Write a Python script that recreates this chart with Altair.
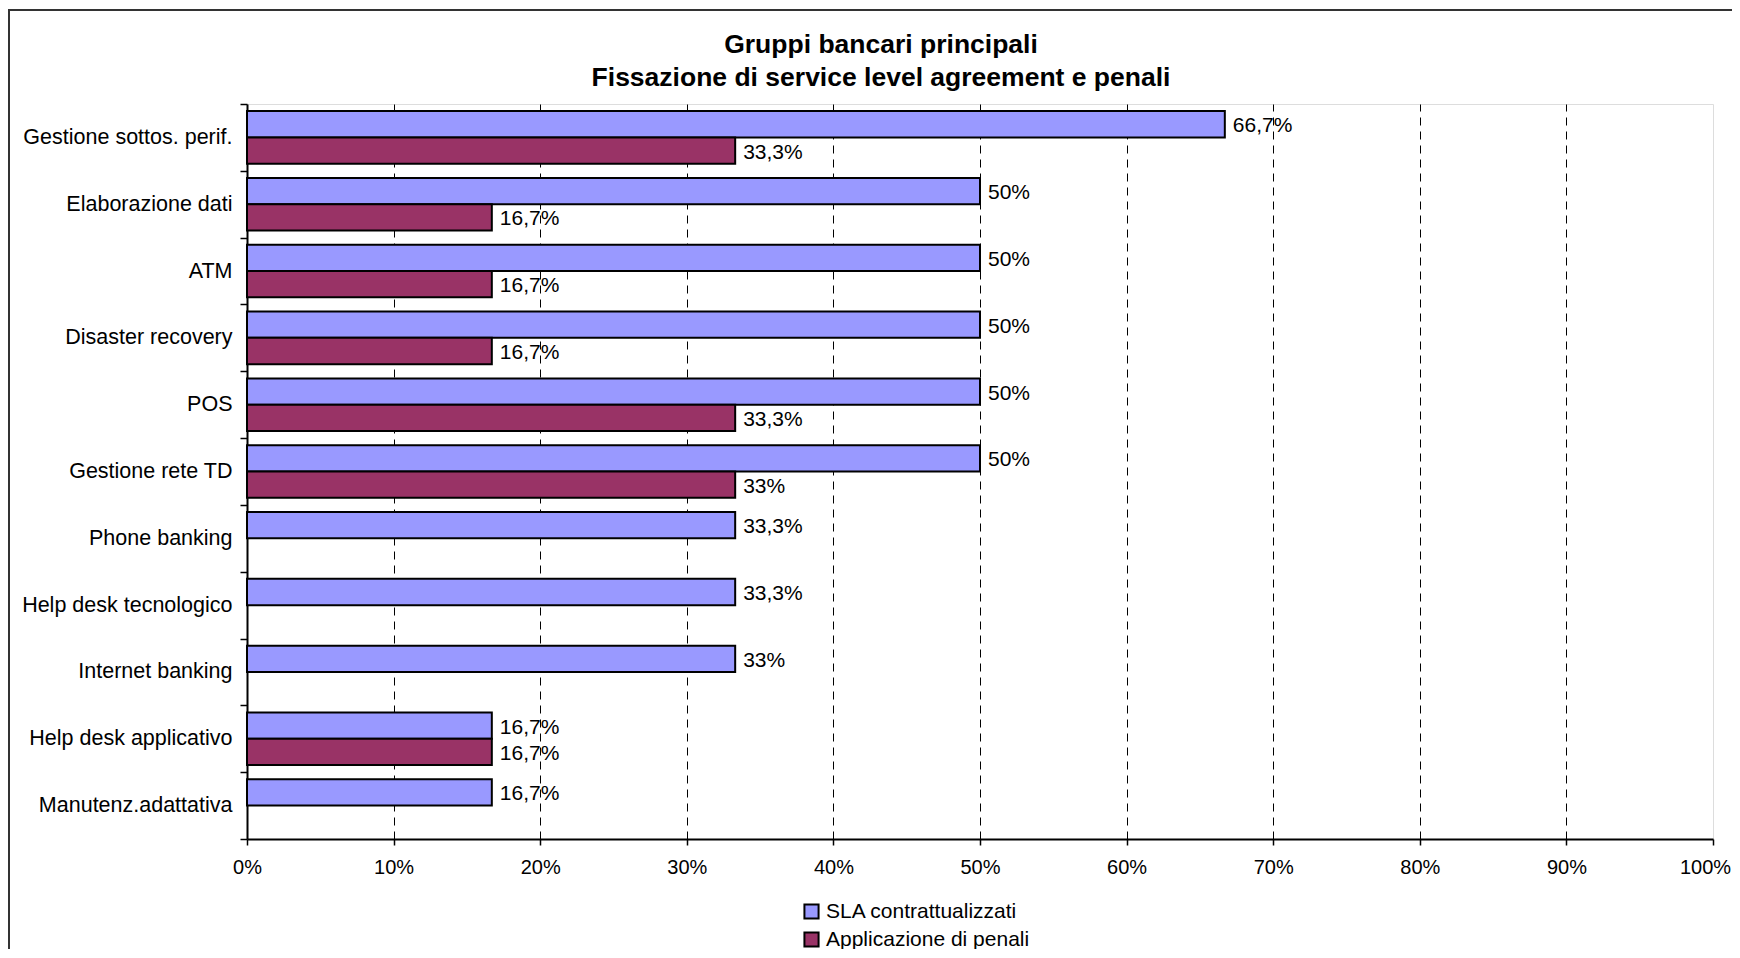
import altair as alt
import pandas as pd

categories = ["Gestione sottos. perif.", "Elaborazione dati", "ATM", "Disaster recovery",
              "POS", "Gestione rete TD", "Phone banking", "Help desk tecnologico",
              "Internet banking", "Help desk applicativo", "Manutenz.adattativa"]
series_names = ["SLA contrattualizzati", "Applicazione di penali"]
sla_values = [66.7, 50, 50, 50, 50, 50, 33.3, 33.3, 33.3, 16.7, 16.7]
sla_labels = ["66,7%", "50%", "50%", "50%", "50%", "50%", "33,3%", "33,3%", "33%", "16,7%", "16,7%"]
pen_values = [33.3, 16.7, 16.7, 16.7, 33.3, 33.3, None, None, None, 16.7, None]
pen_labels = ["33,3%", "16,7%", "16,7%", "16,7%", "33,3%", "33%", None, None, None, "16,7%", None]
x_ticks = [0, 0.1, 0.2, 0.3, 0.4, 0.5, 0.6, 0.7, 0.8, 0.9, 1.0]

rows = []
for c, v, l in zip(categories, sla_values, sla_labels):
    rows.append({"cat": c, "serie": series_names[0], "val": v / 100, "lab": l})
for c, v, l in zip(categories, pen_values, pen_labels):
    if v is not None:
        rows.append({"cat": c, "serie": series_names[1], "val": v / 100, "lab": l})
df = pd.DataFrame(rows)

FONT = "Liberation Sans"
W, H = 1466, 735

y_enc = alt.Y("cat:N", sort=categories,
              scale=alt.Scale(paddingInner=0, paddingOuter=0),
              axis=alt.Axis(title=None, labelFontSize=21.5, labelFont=FONT, labelColor="black",
                            tickBand="extent", domainColor="black", domainWidth=2,
                            tickColor="black", tickWidth=1.5, tickSize=7, labelPadding=8,
                            grid=False, labelLimit=400))
yoff_enc = alt.YOffset("serie:N", sort=series_names,
                       scale=alt.Scale(paddingInner=0, paddingOuter=0.27))
x_enc = alt.X("val:Q", scale=alt.Scale(domain=[0, 1], nice=False),
              axis=alt.Axis(title=None, values=x_ticks, format=".0%", grid=True,
                            gridColor="black", gridDash=[8, 6], gridWidth=1,
                            gridOpacity={"condition": {"test": "datum.value <= 0 || datum.value >= 1", "value": 0}, "value": 1},
                            domainColor="black", domainWidth=2, tickColor="black",
                            tickWidth=1.5, tickSize=6, labelFontSize=20, labelFont=FONT,
                            labelColor="black", labelPadding=12, labelFlush=False,
                            labelOffset={"condition": {"test": "datum.value >= 1", "value": -8}, "value": 0}))

bars = alt.Chart(df).mark_bar(stroke="black", strokeWidth=2).encode(
    x=x_enc,
    y=y_enc,
    yOffset=yoff_enc,
    color=alt.Color("serie:N", sort=series_names,
                    scale=alt.Scale(domain=series_names, range=["#9999FF", "#993366"]),
                    legend=alt.Legend(title=None, orient="none", legendX=554, legendY=797,
                                      symbolType="square", symbolSize=200,
                                      symbolStrokeColor="black", symbolStrokeWidth=2,
                                      labelFontSize=21, labelFont=FONT, labelColor="black",
                                      rowPadding=5, labelOffset=4, labelLimit=400)),
)

labels = alt.Chart(df).mark_text(align="left", baseline="middle", dx=8, dy=2,
                                 fontSize=21, font=FONT, color="black").encode(
    x="val:Q",
    y=alt.Y("cat:N", sort=categories),
    yOffset=alt.YOffset("serie:N", sort=series_names),
    text="lab:N",
)

frame = alt.Chart(alt.Data(values=[{}])).mark_rect(
    fill=None, stroke="#333333", strokeWidth=2).encode(
    x=alt.value(-238), x2=alt.value(W + 400),
    y=alt.value(-94), y2=alt.value(H + 400),
)

chart = alt.layer(frame, bars, labels).properties(
    width=W, height=H,
    title=alt.TitleParams(
        text=["Gruppi bancari principali", "Fissazione di service level agreement e penali"],
        fontSize=26.5, font=FONT, fontWeight="bold", color="black",
        anchor="middle", frame="group", dx=-99, offset=-82, lineHeight=33),
    autosize=alt.AutoSizeParams(type="none"),
    padding={"left": 239, "top": 96, "right": 19, "bottom": 110},
).configure_view(stroke="#808080", strokeWidth=2).configure(background="white")

chart.save("out.html", embed_options={"renderer": "svg", "actions": False})
